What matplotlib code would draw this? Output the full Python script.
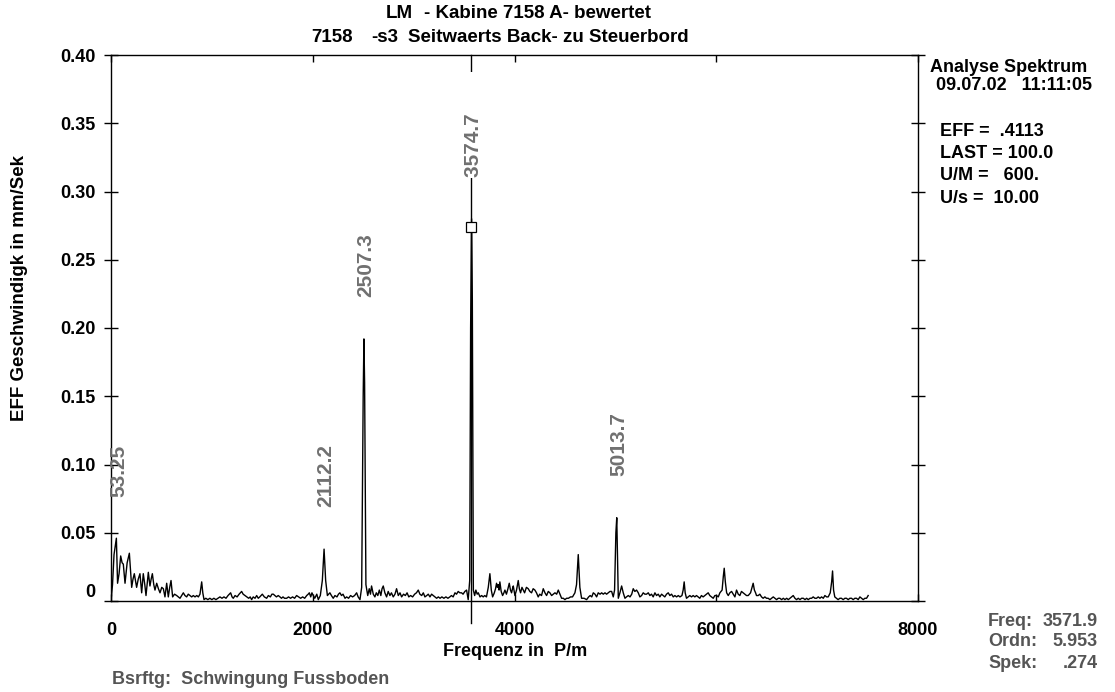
import matplotlib
matplotlib.use("Agg")
import matplotlib.pyplot as plt

plt.rcParams['font.family'] = ['Liberation Sans', 'DejaVu Sans']
plt.rcParams['font.weight'] = 'bold'

# Spectrum (frequency in P/m, effective velocity in mm/s)
spec_freq = [
    0, 15, 30, 53.25, 65, 80, 96, 110, 122, 139, 160, 182, 205, 218, 231, 254, 270, 287, 304, 320,
    335, 347, 360, 370, 386, 398, 410, 424, 436, 453, 470, 486, 503, 519, 535, 552, 568, 582, 595, 611,
    630, 651, 668, 684, 700, 717, 733, 750, 766, 783, 800, 816, 833, 850, 866, 882, 899, 910, 922, 940,
    960, 980, 1000,
    1020, 1040, 1060, 1080, 1100, 1120, 1140, 1160, 1186, 1200, 1212, 1230, 1250, 1270, 1295, 1310, 1328, 1345, 1365, 1380,
    1394, 1410, 1428, 1444, 1460, 1475, 1500, 1520, 1543, 1560, 1580, 1595, 1609, 1625, 1640, 1658, 1675, 1690, 1705, 1720,
    1741, 1760, 1780, 1800, 1820, 1840, 1860, 1880, 1900, 1920, 1940, 1955, 1966, 1980, 1992, 2005, 2020, 2040, 2055, 2075,
    2095, 2112.2, 2128, 2145, 2170,
    2185, 2203, 2220, 2240, 2255, 2269, 2285, 2300, 2320, 2336, 2355, 2375, 2395, 2415, 2435, 2450, 2468, 2485, 2500, 2507.3,
    2514, 2527, 2545, 2560, 2572, 2583, 2600, 2616, 2630, 2645, 2660, 2675, 2687, 2699, 2715, 2732, 2748, 2765, 2780, 2798,
    2815, 2831, 2848, 2865, 2881, 2900, 2918, 2935, 2952, 2970, 2990, 3010, 3028, 3046, 3062, 3080, 3096, 3112, 3130, 3145,
    3162, 3178, 3195, 3212, 3228, 3245, 3262, 3280, 3300, 3320, 3340, 3359, 3375, 3392, 3410, 3425, 3442, 3458, 3475, 3490,
    3508, 3525, 3541, 3556, 3565, 3574.7, 3582, 3592,
    3605, 3617, 3630, 3641, 3658, 3674, 3690, 3705, 3722, 3740, 3756, 3770, 3783, 3800, 3812, 3822, 3830, 3839, 3847, 3855,
    3868, 3882, 3895, 3905, 3920, 3935, 3948, 3960, 3971, 3980, 3988, 4004, 4020, 4037, 4048, 4060, 4074, 4087, 4100, 4118,
    4136, 4152, 4169, 4185, 4202, 4218, 4235, 4250, 4268, 4285, 4302, 4318, 4335, 4351, 4368, 4385, 4401, 4418, 4434, 4450,
    4467, 4484, 4500, 4516, 4535, 4555, 4575, 4599, 4615, 4632, 4648, 4665, 4690, 4715, 4735, 4750, 4766, 4781, 4798, 4814,
    4830, 4848, 4864, 4880, 4897, 4913, 4930, 4946, 4963, 4979, 4992, 5005, 5013.7, 5022,
    5029, 5045, 5062, 5078, 5095, 5110, 5128, 5145, 5162, 5177, 5193, 5210, 5227, 5243, 5260, 5276, 5292, 5309, 5326, 5342,
    5358, 5375, 5392, 5408, 5425, 5441, 5458, 5474, 5490, 5507, 5524, 5540, 5557, 5574, 5590, 5607, 5624, 5640, 5660, 5672,
    5682, 5692, 5705, 5722, 5738, 5755, 5771, 5788, 5804, 5820, 5837, 5853, 5870, 5887, 5903, 5920, 5936, 5953, 5970, 5986,
    6003, 6020, 6036, 6058, 6070, 6079, 6090, 6103, 6119, 6135, 6152, 6168, 6185, 6201, 6218, 6234, 6250, 6267, 6283, 6300,
    6317, 6340, 6355, 6366, 6378, 6390, 6399, 6416, 6432, 6449, 6465, 6482, 6498, 6515, 6532, 6548, 6565, 6582, 6598, 6615,
    6631, 6648, 6665, 6681, 6698, 6714, 6731, 6747, 6763, 6780, 6796, 6813, 6830, 6846, 6863, 6880, 6896, 6912, 6929, 6945,
    6961, 6978, 6994, 7011, 7028, 7044, 7061, 7077, 7094, 7110, 7130, 7144, 7153, 7163, 7175, 7192, 7208, 7225, 7241, 7258,
    7275, 7291, 7308, 7324, 7341, 7357, 7374, 7390, 7407, 7424, 7440, 7457, 7473, 7490, 7506,
]
spec_amp = [
    0.000, 0.012, 0.034, 0.046, 0.013, 0.020, 0.033, 0.028, 0.027, 0.013, 0.028, 0.035, 0.010, 0.016, 0.020, 0.010, 0.016, 0.020, 0.006, 0.020,
    0.012, 0.004, 0.014, 0.021, 0.011, 0.016, 0.020, 0.012, 0.008, 0.013, 0.009, 0.006, 0.010, 0.009, 0.003, 0.013, 0.003, 0.010, 0.015, 0.003,
    0.005, 0.004, 0.003, 0.002, 0.004, 0.006, 0.004, 0.003, 0.005, 0.004, 0.003, 0.004, 0.003, 0.004, 0.003, 0.005, 0.014, 0.006, 0.001, 0.002,
    0.001, 0.002, 0.001,
    0.002, 0.001, 0.002, 0.003, 0.002, 0.003, 0.002, 0.004, 0.006, 0.003, 0.002, 0.004, 0.003, 0.005, 0.007, 0.005, 0.004, 0.003, 0.002, 0.003,
    0.001, 0.003, 0.002, 0.004, 0.002, 0.003, 0.005, 0.003, 0.002, 0.004, 0.003, 0.005, 0.005, 0.004, 0.003, 0.004, 0.003, 0.002, 0.003, 0.002,
    0.002, 0.003, 0.002, 0.003, 0.002, 0.004, 0.003, 0.002, 0.003, 0.002, 0.004, 0.005, 0.006, 0.003, 0.006, 0.004, 0.002, 0.005, 0.001, 0.004,
    0.015, 0.038, 0.015, 0.004, 0.006,
    0.004, 0.002, 0.004, 0.003, 0.005, 0.006, 0.004, 0.005, 0.002, 0.003, 0.002, 0.004, 0.003, 0.004, 0.006, 0.003, 0.001, 0.010, 0.150, 0.192,
    0.160, 0.012, 0.004, 0.009, 0.005, 0.011, 0.005, 0.003, 0.006, 0.004, 0.008, 0.004, 0.009, 0.011, 0.006, 0.003, 0.007, 0.004, 0.006, 0.003,
    0.005, 0.009, 0.004, 0.006, 0.003, 0.005, 0.004, 0.006, 0.003, 0.004, 0.003, 0.005, 0.006, 0.008, 0.005, 0.004, 0.006, 0.003, 0.004, 0.005,
    0.003, 0.005, 0.004, 0.003, 0.002, 0.003, 0.002, 0.003, 0.002, 0.003, 0.002, 0.003, 0.004, 0.003, 0.006, 0.005, 0.007, 0.006, 0.006, 0.005,
    0.007, 0.008, 0.001, 0.015, 0.200, 0.280, 0.220, 0.008,
    0.004, 0.008, 0.005, 0.006, 0.003, 0.004, 0.003, 0.004, 0.003, 0.010, 0.020, 0.008, 0.003, 0.006, 0.009, 0.013, 0.010, 0.012, 0.008, 0.014,
    0.007, 0.004, 0.006, 0.008, 0.005, 0.009, 0.013, 0.008, 0.006, 0.009, 0.011, 0.004, 0.008, 0.015, 0.009, 0.006, 0.010, 0.008, 0.006, 0.010,
    0.009, 0.007, 0.006, 0.009, 0.008, 0.006, 0.003, 0.005, 0.004, 0.009, 0.006, 0.004, 0.007, 0.006, 0.004, 0.005, 0.006, 0.005, 0.008, 0.005,
    0.002, 0.002, 0.001, 0.002, 0.002, 0.003, 0.003, 0.006, 0.012, 0.034, 0.010, 0.002, 0.002, 0.001, 0.003, 0.004, 0.003, 0.006, 0.005, 0.003,
    0.006, 0.005, 0.006, 0.005, 0.006, 0.005, 0.006, 0.007, 0.007, 0.003, 0.008, 0.050, 0.061, 0.030,
    0.002, 0.006, 0.011, 0.006, 0.002, 0.003, 0.004, 0.003, 0.005, 0.009, 0.007, 0.008, 0.006, 0.003, 0.004, 0.006, 0.005, 0.005, 0.006, 0.004,
    0.005, 0.003, 0.006, 0.004, 0.005, 0.003, 0.005, 0.004, 0.003, 0.005, 0.006, 0.004, 0.005, 0.003, 0.004, 0.003, 0.004, 0.003, 0.004, 0.008,
    0.014, 0.006, 0.002, 0.003, 0.004, 0.003, 0.004, 0.003, 0.004, 0.003, 0.002, 0.004, 0.003, 0.004, 0.005, 0.006, 0.004, 0.003, 0.002, 0.004,
    0.004, 0.003, 0.006, 0.008, 0.018, 0.024, 0.014, 0.006, 0.004, 0.006, 0.007, 0.005, 0.003, 0.008, 0.005, 0.004, 0.007, 0.006, 0.005, 0.004,
    0.004, 0.006, 0.010, 0.013, 0.008, 0.006, 0.004, 0.004, 0.005, 0.003, 0.002, 0.003, 0.002, 0.002, 0.001, 0.002, 0.003, 0.002, 0.001, 0.002,
    0.002, 0.001, 0.002, 0.001, 0.002, 0.001, 0.002, 0.003, 0.004, 0.002, 0.001, 0.002, 0.001, 0.002, 0.002, 0.001, 0.002, 0.001, 0.002, 0.002,
    0.003, 0.002, 0.002, 0.003, 0.002, 0.003, 0.002, 0.004, 0.003, 0.003, 0.006, 0.014, 0.022, 0.008, 0.003, 0.002, 0.001, 0.002, 0.002, 0.001,
    0.002, 0.002, 0.001, 0.002, 0.002, 0.001, 0.002, 0.002, 0.001, 0.003, 0.002, 0.001, 0.002, 0.002, 0.004,
]

# Labelled peaks and the cursor readout
peak_freq = [53.25, 2112.2, 2507.3, 3574.7, 5013.7]
peak_labels = ["53.25", "2112.2", "2507.3", "3574.7", "5013.7"]
cursor_freq = 3571.9
cursor_order = 5.953
cursor_spek = 0.274

y_ticks = [0, 0.05, 0.10, 0.15, 0.20, 0.25, 0.30, 0.35, 0.40]
y_ticklabels = ["0", "0.05", "0.10", "0.15", "0.20", "0.25", "0.30", "0.35", "0.40"]
x_ticks = [0, 2000, 4000, 6000, 8000]
x_ticklabels = ["0", "2000", "4000", "6000", "8000"]

W, H = 1115, 692
fig = plt.figure(figsize=(W / 100, H / 100), dpi=100)


def fx(x):
    return x / W


def fy(y):
    return 1 - y / H


FS = 13          # general text size
FS_TITLE = 13.5
FS_PEAK = 15

ax = fig.add_axes([fx(111), fy(601), fx(918) - fx(111), fy(55) - fy(601)])
ax.plot(spec_freq, spec_amp, color='black', lw=1.0, zorder=3)
ax.set_xlim(0, 8000)
ax.set_ylim(0, 0.40)

for sp in ax.spines.values():
    sp.set_linewidth(1.0)

ax.set_yticks(y_ticks)
ax.set_yticklabels(y_ticklabels, fontsize=FS, fontweight='bold')
ax.get_yticklabels()[0].set_verticalalignment('bottom')
ax.set_xticks(x_ticks)
ax.set_xticklabels(x_ticklabels, fontsize=FS, fontweight='bold')
ax.tick_params(axis='y', which='both', direction='inout', length=10, width=1.0,
               left=True, right=True, pad=6)
ax.tick_params(axis='x', which='both', direction='in', length=5, width=1.0,
               bottom=True, top=True, pad=15)

# cursor line and marker
ax.plot([cursor_freq, cursor_freq], [0.40, -0.016], color='black', lw=1.0,
        clip_on=False, zorder=2)
ax.plot([cursor_freq], [cursor_spek], marker='s', ms=7, mfc='white', mec='black',
        mew=0.9, zorder=6, clip_on=False)

# peak annotations
for f, lab in zip(peak_freq, peak_labels):
    a = spec_amp[spec_freq.index(f)]
    is_cursor = abs(f - cursor_freq) < 10
    txt = lab + "       " if is_cursor else lab
    ax.annotate(txt, xy=(f, a), xytext=(1.5, 30), textcoords='offset points',
                rotation=90, ha='center', va='bottom', fontsize=FS_PEAK,
                fontweight='bold', color='#707070', zorder=5,
                bbox=dict(boxstyle='square,pad=0.05', fc='white', ec='none') if is_cursor else None)

# titles
fig.text(fx(386), fy(14), "LM", fontsize=FS_TITLE, fontweight='bold', va='center', ha='left')
fig.text(fx(424), fy(14), "- Kabine 7158 A- bewertet", fontsize=FS_TITLE, fontweight='bold',
         va='center', ha='left')
fig.text(fx(311), fy(38), "7158", fontsize=FS_TITLE, fontweight='bold', va='center', ha='left')
fig.text(fx(371), fy(38), "-s3", fontsize=FS_TITLE, fontweight='bold', va='center', ha='left')
fig.text(fx(408), fy(38), "Seitwaerts Back- zu Steuerbord", fontsize=FS_TITLE, fontweight='bold',
         va='center', ha='left')

# axis titles
fig.text(fx(515), fy(651), "Frequenz in  P/m", fontsize=FS, fontweight='bold',
         ha='center', va='center')
fig.text(fx(20), fy(288), "EFF Geschwindigk in mm/Sek", fontsize=13.5, fontweight='bold',
         ha='center', va='center', rotation=90)

# info panel
fig.text(fx(930), fy(67), "Analyse Spektrum", fontsize=FS, fontweight='bold', va='center')
fig.text(fx(936), fy(86), "09.07.02   11:11:05", fontsize=FS, fontweight='bold', va='center')
fig.text(fx(940), fy(131), "EFF =  .4113", fontsize=FS, fontweight='bold', va='center')
fig.text(fx(940), fy(154), "LAST = 100.0", fontsize=FS, fontweight='bold', va='center')
fig.text(fx(940), fy(176), "U/M =   600.", fontsize=FS, fontweight='bold', va='center')
fig.text(fx(940), fy(198), "U/s =  10.00", fontsize=FS, fontweight='bold', va='center')

# cursor readout
grey = '#555555'
rows = [("Freq:", f"{cursor_freq:.1f}"), ("Ordn:", f"{cursor_order:.3f}"),
        ("Spek:", f"{cursor_spek:.3f}".lstrip('0'))]
for i, (k, v) in enumerate(rows):
    yy = 621 + 21 * i
    fig.text(fx(988), fy(yy), k, fontsize=FS, fontweight='bold', color=grey, va='center')
    fig.text(fx(1098), fy(yy), v, fontsize=FS, fontweight='bold', color=grey, va='center',
             ha='right')

fig.text(fx(112), fy(679), "Bsrftg:  Schwingung Fussboden", fontsize=FS, fontweight='bold',
         color=grey, va='center')

fig.savefig("out.png", dpi=100)
